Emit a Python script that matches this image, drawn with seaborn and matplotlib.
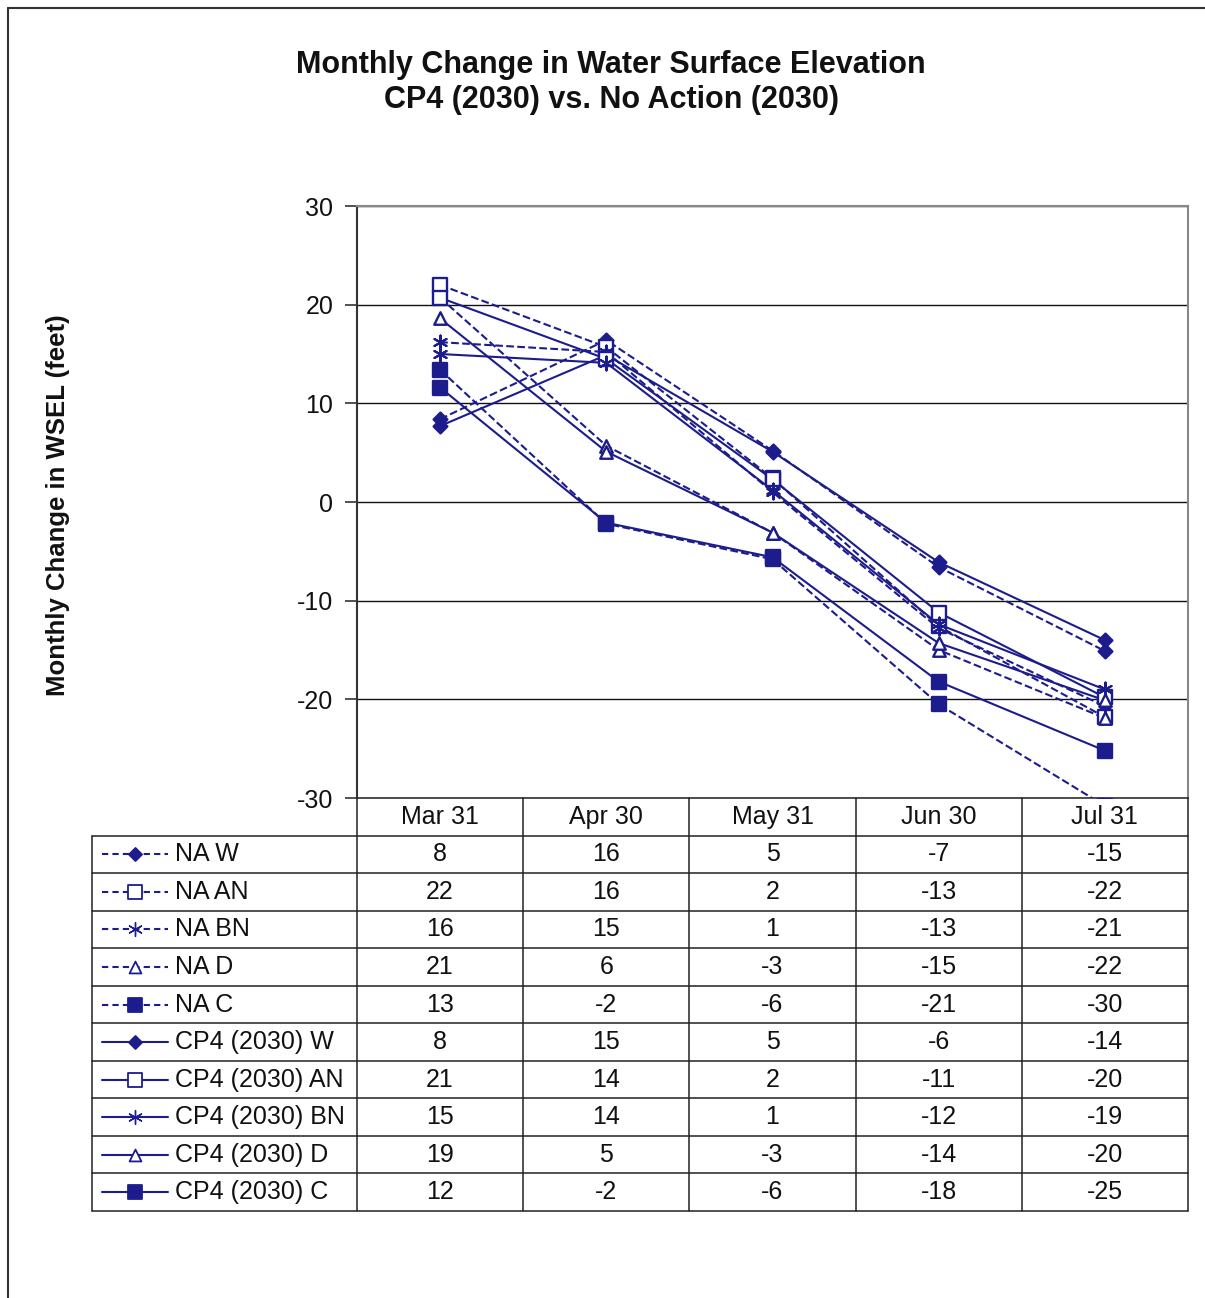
import matplotlib
matplotlib.use("Agg")
import matplotlib.pyplot as plt
import seaborn as sns
import pandas as pd
import numpy as np
from matplotlib.lines import Line2D

sns.set_theme(style="white")
plt.rcParams['font.family'] = ['Liberation Sans', 'DejaVu Sans']
plt.rcParams['axes.unicode_minus'] = False

months = ["Mar 31", "Apr 30", "May 31", "Jun 30", "Jul 31"]
series_names = ["NA W", "NA AN", "NA BN", "NA D", "NA C",
                "CP4 (2030) W", "CP4 (2030) AN", "CP4 (2030) BN", "CP4 (2030) D", "CP4 (2030) C"]

na_w = [8.4, 16.4, 5.2, -6.6, -15.1]
na_an = [22.0, 15.7, 2.4, -12.6, -21.8]
na_bn = [16.2, 15.2, 1.0, -12.8, -20.7]
na_d = [20.7, 5.7, -3.1, -15.0, -21.9]
na_c = [13.4, -2.2, -5.8, -20.5, -30.8]
cp_w = [7.7, 14.9, 5.1, -6.1, -14.0]
cp_an = [20.7, 14.5, 2.3, -11.2, -19.8]
cp_bn = [15.0, 14.1, 1.2, -12.4, -19.0]
cp_d = [18.6, 5.1, -3.1, -14.3, -20.1]
cp_c = [11.6, -2.1, -5.6, -18.2, -25.2]

table_na_w = [8, 16, 5, -7, -15]
table_na_an = [22, 16, 2, -13, -22]
table_na_bn = [16, 15, 1, -13, -21]
table_na_d = [21, 6, -3, -15, -22]
table_na_c = [13, -2, -6, -21, -30]
table_cp_w = [8, 15, 5, -6, -14]
table_cp_an = [21, 14, 2, -11, -20]
table_cp_bn = [15, 14, 1, -12, -19]
table_cp_d = [19, 5, -3, -14, -20]
table_cp_c = [12, -2, -6, -18, -25]

values = [na_w, na_an, na_bn, na_d, na_c, cp_w, cp_an, cp_bn, cp_d, cp_c]
table_vals = [table_na_w, table_na_an, table_na_bn, table_na_d, table_na_c,
              table_cp_w, table_cp_an, table_cp_bn, table_cp_d, table_cp_c]

NAVY = "#1c1c8c"
markers = ["D", "s", "*", "^", "s"] * 2
mfill = [NAVY, "white", NAVY, "white", NAVY] * 2
msize = [7, 10, 11, 9, 10] * 2
styles = ["--"] * 5 + ["-"] * 5

rows = []
for name, vals in zip(series_names, values):
    for i, (m, v) in enumerate(zip(months, vals)):
        rows.append({"series": name, "xi": i, "month": m, "value": v})
df = pd.DataFrame(rows)

W, H = 1205, 1298
fig = plt.figure(figsize=(W / 100, H / 100), dpi=100)

def fax(x0, y0, x1, y1):
    return fig.add_axes([x0 / W, 1 - y1 / H, (x1 - x0) / W, (y1 - y0) / H])

ax = fax(357, 206, 1188, 798)
for k, name in enumerate(series_names):
    sub = df[df.series == name]
    sns.lineplot(data=sub, x="xi", y="value", ax=ax, color=NAVY,
                 linestyle=styles[k], linewidth=1.5, legend=False,
                 marker=None, estimator=None, clip_on=True,
                 **({"dashes": (3, 2.5)} if styles[k] == "--" else {}))
    mk = markers[k]
    if mk == "*":
        ax.scatter(sub.xi, sub.value, marker=(6, 2, 0), s=100, color=NAVY,
                   linewidths=1.5, zorder=5, clip_on=True)
    else:
        ax.scatter(sub.xi, sub.value, marker=mk, s=msize[k] ** 2,
                   facecolor=mfill[k], edgecolor=NAVY, linewidths=1.7,
                   zorder=5, clip_on=True)

ax.set_xlim(-0.5, 4.5)
ax.set_ylim(-30, 30)
ax.set_yticks([-30, -20, -10, 0, 10, 20, 30])
ax.set_xticks([])
ax.set_xlabel("")
ax.set_ylabel("")
ax.tick_params(axis="y", labelsize=18, length=9, width=1.2, color="#333333",
               left=True, pad=8, labelcolor="#111111")
ax.grid(axis="y", color="#111111", linewidth=1.0)
ax.set_axisbelow(True)
for s in ["top", "right"]:
    ax.spines[s].set_color("#888888")
    ax.spines[s].set_linewidth(1.5)
ax.spines["left"].set_color("#333333")
ax.spines["left"].set_linewidth(1.5)
ax.spines["bottom"].set_color("#333333")
ax.spines["bottom"].set_linewidth(1.2)

# data table
px = 166.2
leftcol = -0.5 - (357 - 92) / px
tab = fax(92, 798, 1188, 1211)
tab.set_xlim(leftcol, 4.5)
tab.set_ylim(11, 0)
tab.axis("off")
lc = "#222222"
for r in range(1, 12):
    tab.plot([leftcol, 4.5], [r, r], color=lc, lw=1.1, clip_on=False)
for c in range(6):
    tab.plot([-0.5 + c, -0.5 + c], [0, 11], color=lc, lw=1.1, clip_on=False)
tab.plot([leftcol, leftcol], [1, 11], color=lc, lw=1.1, clip_on=False)
FS = 18
for i, m in enumerate(months):
    tab.text(i, 0.5, m, ha="center", va="center", fontsize=FS, color="#111111")
for k, name in enumerate(series_names):
    y = k + 1.5
    x0 = leftcol + (102 - 92) / px
    x1 = leftcol + (168 - 92) / px
    xm = leftcol + (135 - 92) / px
    tab.plot([x0, x1], [y, y], color=NAVY, lw=1.5, linestyle=styles[k],
             **({"dashes": (3, 2)} if styles[k] == "--" else {}))
    mk = markers[k]
    if mk == "*":
        tab.scatter([xm], [y], marker=(6, 2, 0), s=100, color=NAVY, linewidths=1.0, zorder=5)
    else:
        tab.scatter([xm], [y], marker=mk, s=(msize[k] * 0.95) ** 2, facecolor=mfill[k],
                    edgecolor=NAVY, linewidths=1.3, zorder=5)
    tab.text(leftcol + (175 - 92) / px, y, name, ha="left", va="center",
             fontsize=FS, color="#111111")
    for i, v in enumerate(table_vals[k]):
        tab.text(i, y, f"{v}", ha="center", va="center", fontsize=FS, color="#111111")

fig.text(611 / W, 1 - 65 / H, "Monthly Change in Water Surface Elevation",
         ha="center", va="center", fontsize=22, fontweight="bold", color="#111111")
fig.text(611 / W, 1 - 100 / H, "CP4 (2030) vs. No Action (2030)",
         ha="center", va="center", fontsize=22, fontweight="bold", color="#111111")
fig.text(58 / W, 1 - 505 / H, "Monthly Change in WSEL (feet)", rotation=90,
         ha="center", va="center", fontsize=18.5, fontweight="bold", color="#111111")

# outer frame (left and top edges)
fig.add_artist(Line2D([8 / W, 8 / W], [0, 1 - 8 / H], color="#333333", lw=1.5))
fig.add_artist(Line2D([8 / W, 1], [1 - 8 / H, 1 - 8 / H], color="#333333", lw=1.5))

fig.savefig("out.png", dpi=100, facecolor="white")
